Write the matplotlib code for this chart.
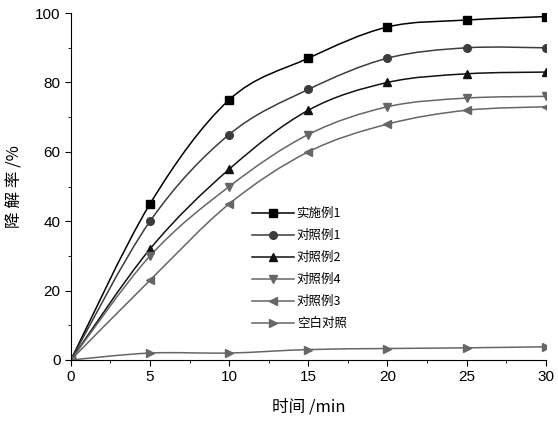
import numpy as np
import matplotlib
matplotlib.use("Agg")
import matplotlib.pyplot as plt
from matplotlib.path import Path
from matplotlib.patches import PathPatch
from matplotlib.lines import Line2D

time_min = [0, 5, 10, 15, 20, 25, 30]

names = ['实施例1', '对照例1', '对照例2', '对照例4', '对照例3', '空白对照']
shishi1 = [0, 45, 75, 87, 96, 98, 99]
duizhao1 = [0, 40, 65, 78, 87, 90, 90]
duizhao2 = [0, 32, 55, 72, 80, 82.5, 83]
duizhao4 = [0, 30, 50, 65, 73, 75.5, 76]
duizhao3 = [0, 23, 45, 60, 68, 72, 73]
kongbai = [0, 2, 2, 3, 3.3, 3.5, 3.8]

series = [shishi1, duizhao1, duizhao2, duizhao4, duizhao3, kongbai]
markers = ['s', 'o', '^', 'v', '<', '>']
colors = ['#000000', '#3c3c3c', '#111111', '#666666', '#666666', '#666666']

cjk = ['Noto Sans CJK SC', 'DejaVu Sans']


def smooth_path(x, y):
    # catmull-rom through the points, drawn as bezier segments
    x = np.asarray(x, float)
    y = np.asarray(y, float)
    verts = [(x[0], y[0])]
    codes = [Path.MOVETO]
    n = len(x)
    for i in range(n - 1):
        p0 = (x[max(i - 1, 0)], y[max(i - 1, 0)])
        p1 = (x[i], y[i])
        p2 = (x[i + 1], y[i + 1])
        p3 = (x[min(i + 2, n - 1)], y[min(i + 2, n - 1)])
        c1 = (p1[0] + (p2[0] - p0[0]) / 6, p1[1] + (p2[1] - p0[1]) / 6)
        c2 = (p2[0] - (p3[0] - p1[0]) / 6, p2[1] - (p3[1] - p1[1]) / 6)
        verts += [c1, c2, p2]
        codes += [Path.CURVE4] * 3
    return Path(verts, codes)


fig = plt.figure(figsize=(5.58, 4.23), dpi=100)
ax = fig.add_axes([0.127, 0.149, 0.851, 0.820])

handles = []
for vals, m, c, name in zip(series, markers, colors, names):
    ax.add_patch(PathPatch(smooth_path(time_min, vals), fill=False,
                           edgecolor=c, lw=1.1))
    ax.plot(time_min, vals, linestyle='none', marker=m, color=c,
            markersize=5.5, clip_on=True)
    handles.append(Line2D([], [], color=c, lw=1.1, marker=m,
                          markersize=5.5, label=name))

ax.set_xlim(0, 30)
ax.set_ylim(0, 100)
ax.set_xticks([0, 5, 10, 15, 20, 25, 30])
ax.set_xticks(np.arange(2.5, 30, 5), minor=True)
ax.set_yticks([0, 20, 40, 60, 80, 100])
ax.set_yticks(np.arange(10, 100, 20), minor=True)
ax.tick_params(which='major', direction='out', length=4, labelsize=11)
ax.tick_params(which='minor', direction='out', length=2.5)
for lab in ax.get_xticklabels() + ax.get_yticklabels():
    lab.set_fontfamily('Liberation Sans')

ax.spines['top'].set_visible(False)
ax.spines['right'].set_visible(False)

ax.set_xlabel('时间 /min', family=cjk, fontsize=12, labelpad=10)
ax.set_ylabel('降 解 率 /%', family=cjk, fontsize=12, labelpad=8)

ax.legend(handles=handles, loc='upper left',
          bbox_to_anchor=(0.37, 0.455), frameon=False,
          prop={'family': cjk, 'size': 9}, handlelength=3.4,
          labelspacing=0.72, borderaxespad=0, handletextpad=0.2)

fig.savefig('out.png', dpi=100)
